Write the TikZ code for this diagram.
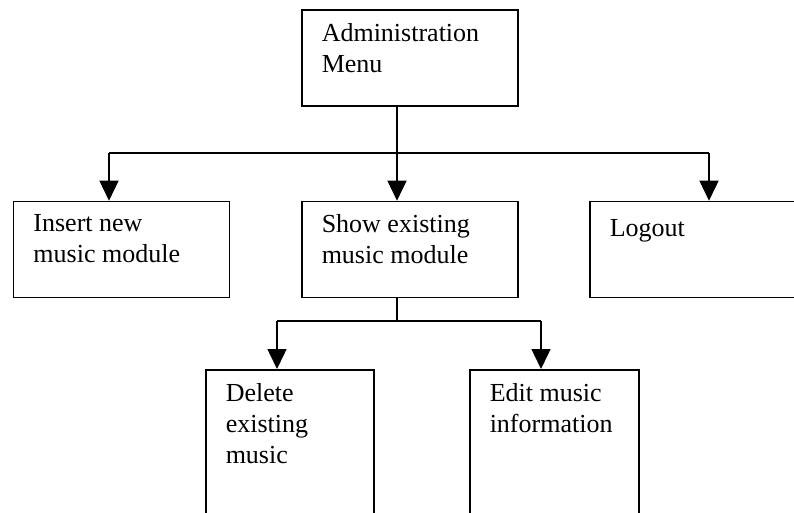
\documentclass[tikz,border=0pt]{standalone}
\usepackage{fontspec}
\setmainfont{Liberation Serif}
\usetikzlibrary{arrows.meta}
\tikzset{
	-tri/.style={-{Triangle[length=20pt,width=19pt]}},
	box/.style={draw,rectangle,anchor=north west,minimum width=216pt,minimum height=96pt},
	tall/.style={minimum height=150pt},
	txt/.style={anchor=north west,align=left,inner sep=0pt,font=\fontsize{26}{31}\selectfont,
		execute at begin node=\strut}
}
\begin{document}
\begin{tikzpicture}[x=1pt,y=-1pt,line width=1.5pt]
            \useasboundingbox (0,0) rectangle (794,512);
            \clip (0,0) rectangle (794,512);
            \node[box] (adm) at (301,9) {};
            \node[box] (ins) at (12.7,200.7) {};
            \node[box] (sho) at (301,200.7) {};
            \node[box] (log) at (589,200.7) {};
            \node[box,tall,minimum width=168pt] (del) at (205,369) {};
            \node[box,tall,minimum width=169pt] (edi) at (469,369) {};
            \node[txt] (admt) at ([xshift=20pt,yshift=-13.3pt]adm.north west) {Administration\\Menu};
            \node[txt] (inst) at ([xshift=20pt,yshift=-13.3pt]ins.north west) {Insert new\\music module};
            \node[txt] (shot) at ([xshift=20pt,yshift=-13.3pt]sho.north west) {Show existing\\music module};
            \node[txt] (logt) at ([xshift=20pt,yshift=-13.3pt]log.north west) {Logout};
            \node[txt] (delt) at ([xshift=20pt,yshift=-13.3pt]del.north west) {Delete\\existing\\music};
            \node[txt] (edit) at ([xshift=20pt,yshift=-13.3pt]edi.north west) {Edit music\\information};
            \node[coordinate] (a) at (109,153) {};
            \node[coordinate] (b) at (397,153) {};
            \node[coordinate] (c) at (709,153) {};
            \node[coordinate] (d) at (277,321) {};
            \node[coordinate] (e) at (397,321) {};
            \node[coordinate] (f) at (541,321) {};
            \draw (adm.south -| b) -- (b);
            \draw (a) -- (c);
            \draw[-tri] (a) -- (a |- ins.north);
            \draw[-tri] (b) -- (b |- sho.north);
            \draw[-tri] (c) -- (c |- log.north);
            \draw (sho.south -| e) -- (e);
            \draw (d) -- (f);
            \draw[-tri] (d) -- (d |- del.north);
            \draw[-tri] (f) -- (f |- edi.north);
        \end{tikzpicture}
\end{document}
